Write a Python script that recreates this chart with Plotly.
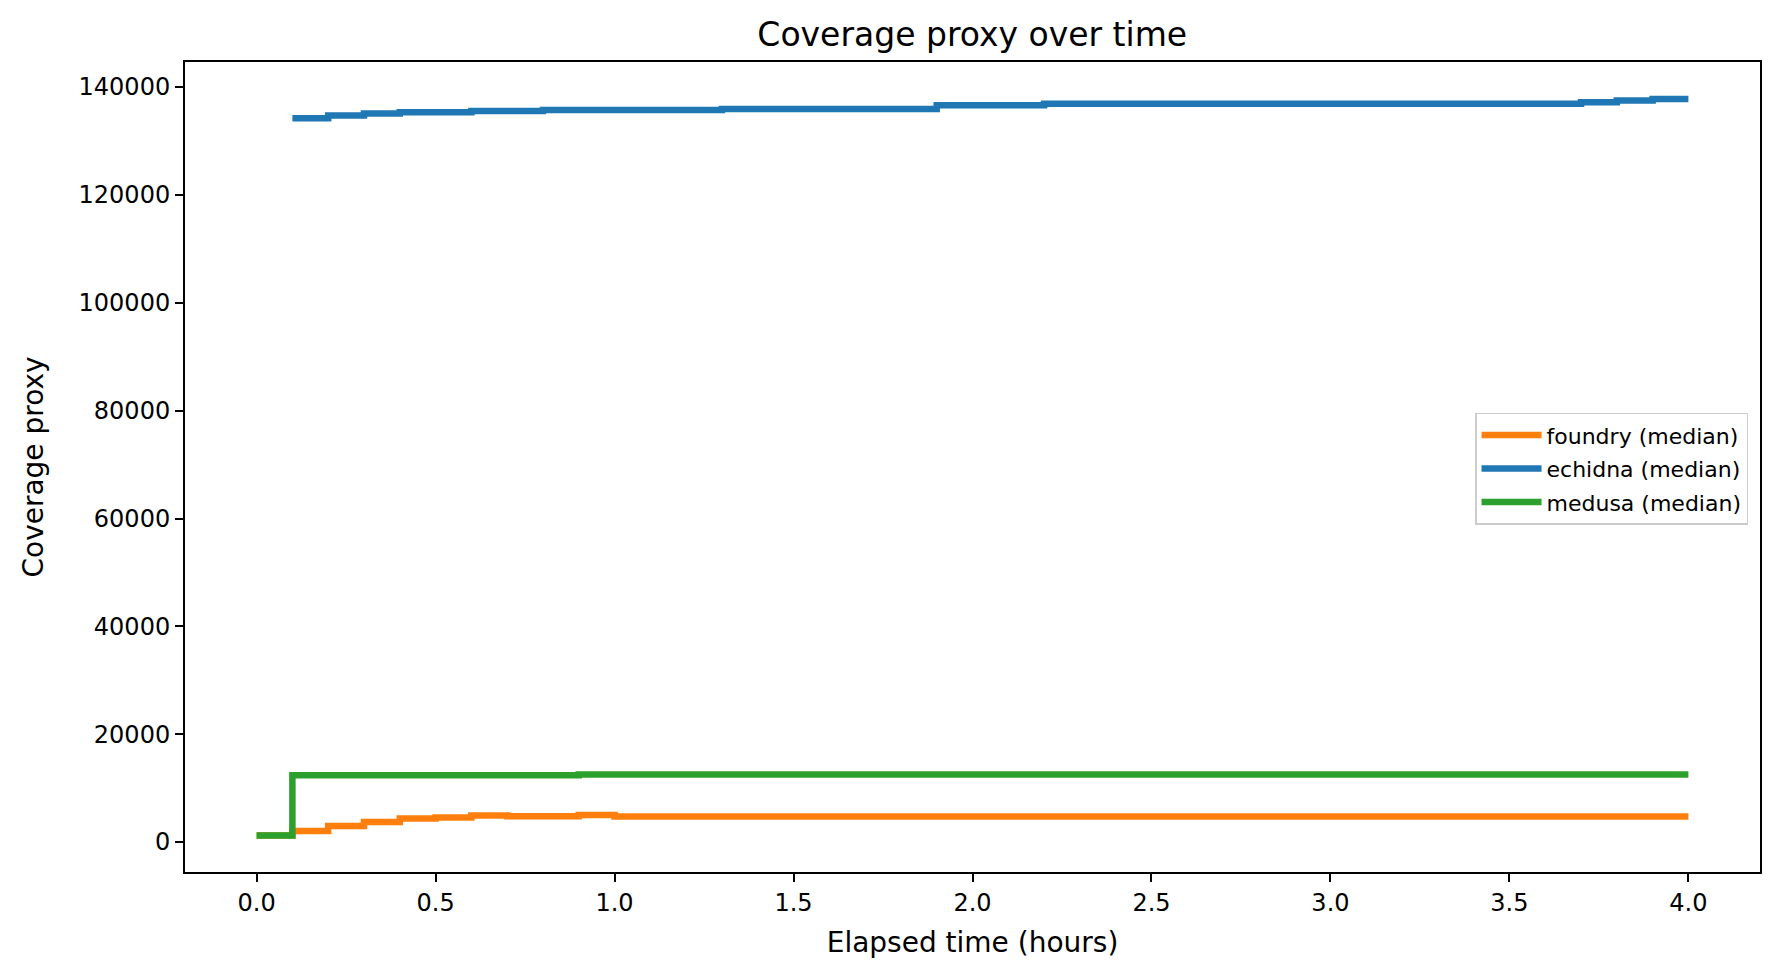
import plotly.graph_objects as go

# Step change points (hours) and median coverage proxy values
foundry_t = [0.0, 0.1, 0.2, 0.3, 0.4, 0.5, 0.6, 0.7, 0.9, 1.0, 4.0]
foundry_v = [1200, 2050, 3000, 3700, 4350, 4550, 4950, 4800, 5000, 4750, 4750]

echidna_t = [0.1, 0.2, 0.3, 0.4, 0.6, 0.8, 1.3, 1.9, 2.2, 3.7, 3.8, 3.9, 4.0]
echidna_v = [134200, 134750, 135100, 135350, 135550, 135750, 135950, 136650,
             136900, 137200, 137500, 137800, 137800]

medusa_t = [0.0, 0.1, 0.9, 4.0]
medusa_v = [1200, 12400, 12550, 12550]

series = [
    ("foundry (median)", foundry_t, foundry_v, "#ff7f0e"),
    ("echidna (median)", echidna_t, echidna_v, "#1f77b4"),
    ("medusa (median)", medusa_t, medusa_v, "#2ca02c"),
]

FONT = "DejaVu Sans"

fig = go.Figure()
for name, t, v, color in series:
    fig.add_trace(go.Scatter(
        x=t, y=v, mode="lines", name=name, legendgroup=name,
        line=dict(color=color, width=6.5, shape="hv"),
    ))

axis_common = dict(
    showgrid=False, zeroline=False, showline=True, linecolor="black",
    linewidth=2, mirror=True, ticks="outside", ticklen=8, tickwidth=2,
    tickcolor="black", tickfont=dict(family=FONT, size=24, color="black"),
)

fig.update_layout(
    width=1779, height=978,
    margin=dict(l=185, r=19, t=62, b=106),
    paper_bgcolor="white", plot_bgcolor="white",
    font=dict(family=FONT, color="black"),
    title=dict(text="Coverage proxy over time", x=0.5465, xanchor="center",
               y=0.965, yanchor="middle", yref="container",
               font=dict(family=FONT, size=33, color="black")),
    xaxis=dict(range=[-0.2, 4.2], tick0=0, dtick=0.5, tickformat=".1f",
               title=dict(text="Elapsed time (hours)", standoff=17,
                          font=dict(family=FONT, size=28, color="black")),
               **axis_common),
    yaxis=dict(range=[-5550, 144650], tick0=0, dtick=20000, tickformat="d",
               title=dict(text="Coverage proxy", standoff=27,
                          font=dict(family=FONT, size=28, color="black")),
               **axis_common),
    legend=dict(x=0.9924, xanchor="right", y=0.498, yanchor="middle",
                bgcolor="rgba(255,255,255,0.8)", bordercolor="#cccccc",
                borderwidth=1.5, font=dict(family=FONT, size=22, color="black"),
                tracegroupgap=2, traceorder="grouped", itemwidth=60),
    showlegend=True,
)

fig.write_html("out.html")
